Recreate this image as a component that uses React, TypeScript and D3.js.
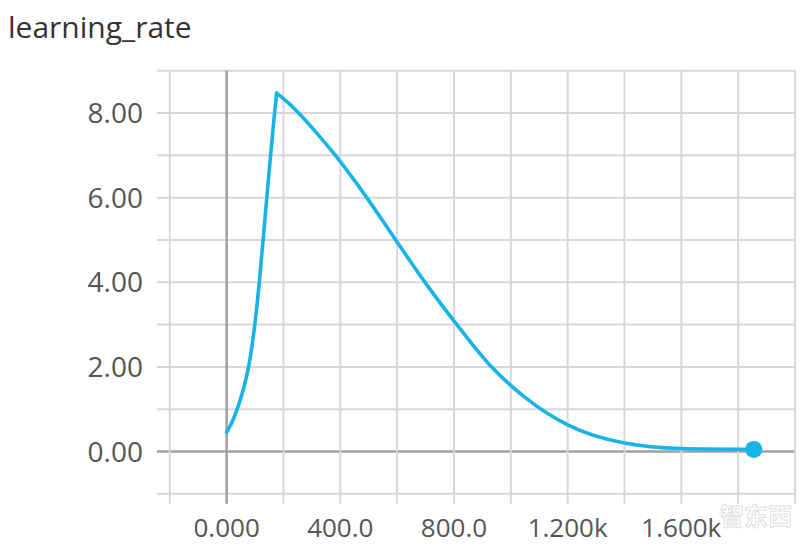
import React from "react";
import * as d3 from "d3";

const title = "learning_rate";
const steps = [0, 18, 38, 60, 80, 100, 115, 140, 165, 176, 220, 260, 320, 380, 490, 595, 700, 810, 925, 1050, 1200, 1400, 1600, 1855];
const values = [0.46, 0.68, 1.02, 1.5, 2.1, 3.05, 4.0, 5.9, 7.75, 8.47, 8.22, 7.95, 7.5, 7.02, 6.03, 5.0, 3.98, 3.0, 2.05, 1.28, 0.63, 0.2, 0.07, 0.05];
const peakIndex = 9;
const xTickValues = [0, 400, 800, 1200, 1600];
const xTickLabels = ["0.000", "400.0", "800.0", "1.200k", "1.600k"];
const yTickValues = [0, 2, 4, 6, 8];
const yTickLabels = ["0.00", "2.00", "4.00", "6.00", "8.00"];
const xGridValues = d3.range(-200, 2001, 200);
const yGridValues = d3.range(-1, 10, 1);

export default function App() {
  const W = 800;
  const H = 548;
  const x = d3.scaleLinear().domain([-245, 2000]).range([157, 795]);
  const y = d3.scaleLinear().domain([0, 8]).range([451.5, 113]);
  const pts: [number, number][] = steps.map((s, i) => [s, values[i]]);
  const line = d3
    .line<[number, number]>()
    .x((d) => x(d[0]))
    .y((d) => y(d[1]))
    .curve(d3.curveMonotoneX);
  const rise = line(pts.slice(0, peakIndex + 1)) || "";
  const fall = line(pts.slice(peakIndex)) || "";
  const last = pts[pts.length - 1];
  const font = "'Open Sans', 'Noto Sans', sans-serif";
  const gridTop = y(9);
  const gridBottom = y(-1);
  return (
    <svg width={W} height={H} style={{ position: "absolute", left: 0, top: 0, background: "#fff" }}>
      <rect width={W} height={H} fill="#fff" />
      <text x={8} y={38} fontFamily={font} fontSize={30} fill="#333">
        {title}
      </text>
      {yGridValues.map((v) => (
        <line
          key={"h" + v}
          x1={157}
          x2={795}
          y1={y(v)}
          y2={y(v)}
          stroke={v === 0 ? "#a0a0a0" : "#d8d8d8"}
          strokeWidth={v === 0 ? 2.5 : 2}
        />
      ))}
      {xGridValues.map((v) => (
        <line
          key={"v" + v}
          x1={x(v)}
          x2={x(v)}
          y1={gridTop}
          y2={gridBottom + 10}
          stroke={v === 0 ? "#a0a0a0" : "#d8d8d8"}
          strokeWidth={v === 0 ? 2.5 : 2}
        />
      ))}
      {yTickValues.map((v, i) => (
        <text
          key={"yl" + v}
          x={143}
          y={y(v) + 10}
          textAnchor="end"
          fontFamily={font}
          fontSize={28}
          fill="#555"
        >
          {yTickLabels[i]}
        </text>
      ))}
      {xTickValues.map((v, i) => (
        <text
          key={"xl" + v}
          x={x(v)}
          y={537}
          textAnchor="middle"
          fontFamily={font}
          fontSize={26}
          fill="#555"
        >
          {xTickLabels[i]}
        </text>
      ))}
      <path d={rise} fill="none" stroke="#17b4e9" strokeWidth={3.6} strokeLinejoin="round" strokeLinecap="round" />
      <path d={fall} fill="none" stroke="#17b4e9" strokeWidth={3.6} strokeLinejoin="round" strokeLinecap="round" />
      <circle cx={x(last[0])} cy={y(last[1])} r={8.5} fill="#17b4e9" />
      <text
        x={756}
        y={525}
        textAnchor="middle"
        fontFamily="'Noto Sans CJK SC', sans-serif"
        fontSize={24}
        fontWeight={700}
        fill="#ffffff"
        fillOpacity={0.6}
        stroke="#c8c8c8"
        strokeWidth={1}
        strokeOpacity={0.6}
      >
        智东西
      </text>
    </svg>
  );
}
